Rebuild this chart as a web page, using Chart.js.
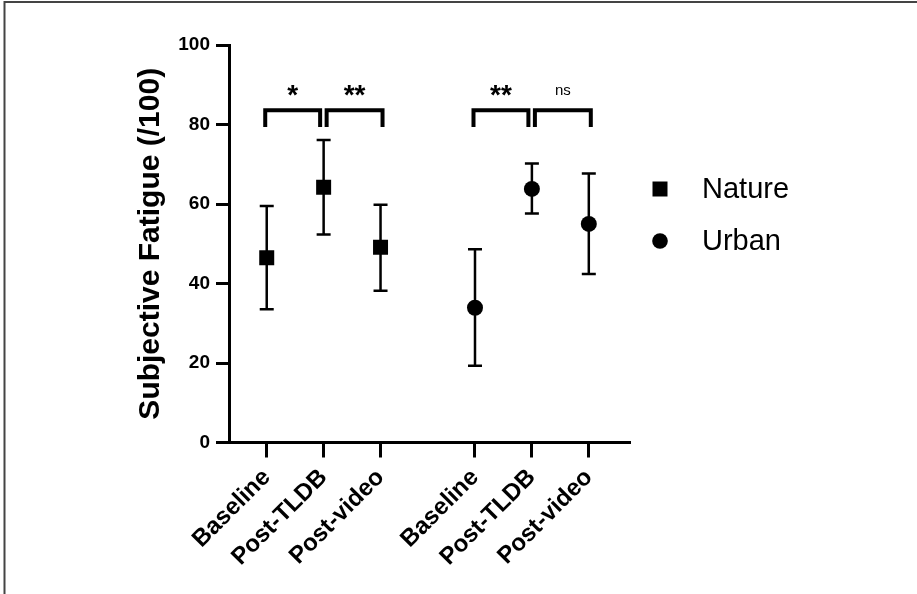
<!DOCTYPE html>
<html><head><meta charset="utf-8">
<script src="https://cdn.jsdelivr.net/npm/chart.js@4.4.0/dist/chart.umd.min.js"></script>
<style>html,body{margin:0;padding:0;background:#fff;overflow:hidden}#wrap{width:917px;height:594px;position:relative}</style>
</head><body><div id="wrap"><canvas id="c"></canvas></div>
<script>
// ---- data ----
const categories = ['Baseline', 'Post-TLDB', 'Post-video'];
const groups = ['Nature', 'Urban'];
const natureMean  = [46.5, 64.2, 49.1];
const natureLower = [33.5, 52.3, 38.2];
const natureUpper = [59.5, 76.1, 59.8];
const urbanMean   = [33.9, 63.8, 55.0];
const urbanLower  = [19.3, 57.6, 42.4];
const urbanUpper  = [48.6, 70.2, 67.7];
const yTicks = [0, 20, 40, 60, 80, 100];
const natureSig = ['*', '**'];
const urbanSig = ['**', 'ns'];
const bracketTop = 83.6;
const bracketLeg = 79.4;

// ---- layout helpers ----
const GROUP_STEP = 3.66;
const xPos = (g, i) => 1 + i + g * GROUP_STEP;
const FONT = "'Liberation Sans', Arial, sans-serif";
Chart.defaults.font.family = FONT;
Chart.defaults.color = '#000';

function makeData(g, mean, lo, hi) {
  return mean.map((m, i) => ({ x: xPos(g, i), y: m, lo: lo[i], hi: hi[i] }));
}
const tickPositions = [];
const tickLabels = [];
groups.forEach((g, gi) => categories.forEach((c, i) => { tickPositions.push(xPos(gi, i)); tickLabels.push(c); }));

const frame = {
  id: 'frame',
  beforeDraw(chart) {
    const ctx = chart.ctx;
    ctx.save();
    ctx.strokeStyle = '#444';
    ctx.lineWidth = 2;
    ctx.beginPath();
    ctx.moveTo(917, 2); ctx.lineTo(4.5, 2); ctx.lineTo(4.5, 594);
    ctx.stroke();
    ctx.restore();
  }
};

const errorBars = {
  id: 'errorBars',
  beforeDatasetsDraw(chart) {
    const { ctx, scales: { x, y } } = chart;
    ctx.save();
    ctx.strokeStyle = '#000';
    ctx.lineWidth = 2.5;
    chart.data.datasets.forEach(ds => {
      ds.data.forEach(p => {
        const px = x.getPixelForValue(p.x);
        const yl = y.getPixelForValue(p.lo), yh = y.getPixelForValue(p.hi);
        ctx.beginPath();
        ctx.moveTo(px, yl); ctx.lineTo(px, yh);
        ctx.moveTo(px - 7, yl); ctx.lineTo(px + 7, yl);
        ctx.moveTo(px - 7, yh); ctx.lineTo(px + 7, yh);
        ctx.stroke();
      });
    });
    ctx.restore();
  }
};

const brackets = {
  id: 'brackets',
  afterDatasetsDraw(chart) {
    const { ctx, scales: { x, y } } = chart;
    const yT = y.getPixelForValue(bracketTop), yB = y.getPixelForValue(bracketLeg);
    ctx.save();
    ctx.strokeStyle = '#000';
    ctx.lineWidth = 4;
    ctx.lineJoin = 'miter';
    [natureSig, urbanSig].forEach((sig, g) => {
      const p = [0, 1, 2].map(i => x.getPixelForValue(xPos(g, i)));
      const spans = [[p[0] - 1.5, p[1] - 3.5], [p[1] + 3, p[2] + 2]];
      spans.forEach(([a, b], k) => {
        ctx.beginPath();
        ctx.moveTo(a, yB); ctx.lineTo(a, yT); ctx.lineTo(b, yT); ctx.lineTo(b, yB);
        ctx.stroke();
        const cx = (a + b) / 2;
        ctx.fillStyle = '#000';
        ctx.textAlign = 'center';
        ctx.textBaseline = 'alphabetic';
        if (sig[k] === 'ns') {
          ctx.font = '15px ' + FONT;
          ctx.fillText(sig[k], cx, yT - 15);
        } else {
          ctx.font = 'bold 28px ' + FONT;
          ctx.fillText(sig[k], cx, yT - 6.5);
        }
      });
    });
    ctx.restore();
  }
};

const legendPlugin = {
  id: 'customLegend',
  afterDraw(chart) {
    const ctx = chart.ctx;
    ctx.save();
    ctx.fillStyle = '#000';
    ctx.font = '29px ' + FONT;
    ctx.textAlign = 'left';
    ctx.textBaseline = 'middle';
    chart.data.datasets.forEach((ds, i) => {
      const cx = 660, cy = 189 + i * 52;
      ctx.beginPath();
      if (ds.pointStyle === 'rect') ctx.rect(cx - 7.5, cy - 7.5, 15, 15);
      else ctx.arc(cx, cy, 7.8, 0, Math.PI * 2);
      ctx.fill();
      ctx.fillText(ds.label, 702, cy + 1);
    });
    ctx.restore();
  }
};

new Chart(document.getElementById('c'), {
  type: 'scatter',
  data: {
    datasets: [
      { label: groups[0], data: makeData(0, natureMean, natureLower, natureUpper),
        pointStyle: 'rect', pointRadius: 10.6, pointHoverRadius: 10.6,
        backgroundColor: '#000', borderColor: '#000', borderWidth: 0 },
      { label: groups[1], data: makeData(1, urbanMean, urbanLower, urbanUpper),
        pointStyle: 'circle', pointRadius: 8, pointHoverRadius: 8,
        backgroundColor: '#000', borderColor: '#000', borderWidth: 0 }
    ]
  },
  options: {
    responsive: true,
    maintainAspectRatio: false,
    devicePixelRatio: 1,
    animation: false,
    events: [],
    layout: { padding: { left: 0, top: 45, right: 287, bottom: 0 } },
    plugins: { legend: { display: false }, tooltip: { enabled: false } },
    scales: {
      x: {
        type: 'linear',
        min: 0.337, max: 7.384,
        afterBuildTicks: s => { s.ticks = tickPositions.map(v => ({ value: v })); },
        afterFit: s => { s.height = 151.5; },
        ticks: {
          autoSkip: false,
          maxRotation: 45, minRotation: 45,
          padding: 6,
          font: { size: 24, weight: 'bold' },
          callback: (v, i) => tickLabels[i]
        },
        grid: { display: true, drawOnChartArea: false, drawTicks: true, tickLength: 15, tickWidth: 3, tickColor: '#000' },
        border: { display: true, color: '#000', width: 3 }
      },
      y: {
        min: 0, max: 100,
        afterBuildTicks: s => { s.ticks = yTicks.map(v => ({ value: v })); },
        afterFit: s => { s.width = 229; },
        ticks: { padding: 6, font: { size: 19, weight: 'bold' } },
        title: { display: true, text: 'Subjective Fatigue (/100)', font: { size: 30, weight: 'bold' }, padding: { top: 133, bottom: 0 } },
        grid: { display: true, drawOnChartArea: false, drawTicks: true, tickLength: 13, tickWidth: 3, tickColor: '#000' },
        border: { display: true, color: '#000', width: 3 }
      }
    }
  },
  plugins: [frame, errorBars, brackets, legendPlugin]
});
</script></body></html>
